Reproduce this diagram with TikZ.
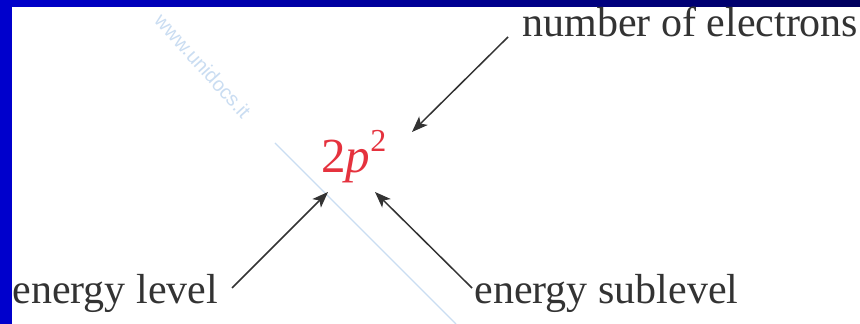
\documentclass[tikz,border=0pt]{standalone}
\usepackage{fontspec}
\setmainfont{Liberation Serif}
\newfontfamily\wmfont{Liberation Sans}
\usetikzlibrary{arrows.meta,positioning,calc}
\definecolor{framebl}{HTML}{0000CC}
\definecolor{framedk}{HTML}{00005E}
\definecolor{inkgr}{HTML}{333333}
\definecolor{orbred}{HTML}{E5323E}
\definecolor{wmark}{HTML}{CADDF2}

\begin{document}
\begin{tikzpicture}[
  x=0.5pt,y=-0.5pt,
  lbl/.style={inner sep=0pt,anchor=base west,text=inkgr,font=\fontsize{21}{24}\selectfont},
  arr/.style={-{Stealth[length=8pt,width=6pt,inset=2pt]},line width=0.75pt,draw=inkgr}
]
% frame and margins
\useasboundingbox (0,0) rectangle (860,324);
\fill[white] (0,0) rectangle (860,324);

% watermark
\draw[wmark,line width=0.6pt] (275,143) -- (456,324);
\node[text=wmark,rotate=-48,font=\wmfont\fontsize{10}{10}\selectfont,inner sep=0pt] (wm) at (203,66) {www.unidocs.it};

\shade[left color=framebl,right color=framedk] (0,0) rectangle (860,7);
\fill[framebl] (0,0) rectangle (12,324);

% labels
\node[lbl] (elec) at (522,37) {number of electrons};
\node[lbl] (lvl) at (12,304) {energy level};
\node[lbl] (sub) at (474,304) {energy sublevel};
\node[inner sep=0pt,anchor=base west,text=orbred,font=\fontsize{24.5}{24}\selectfont]
  (orb) at (321,173) {2\textit{p}\raisebox{10.5pt}{\fontsize{16}{16}\selectfont 2}};

% arrow ends
\coordinate (elec-t) at (508,37);
\coordinate (lvl-t) at (232,288);
\coordinate (sub-t) at (472,288);
\coordinate (orb-ne) at (412,132);
\coordinate (orb-sw) at (328,192);
\coordinate (orb-s) at (375,192);

\draw[arr] (elec-t) -- (orb-ne);
\draw[arr] (lvl-t) -- (orb-sw);
\draw[arr] (sub-t) -- (orb-s);
\end{tikzpicture}
\end{document}
